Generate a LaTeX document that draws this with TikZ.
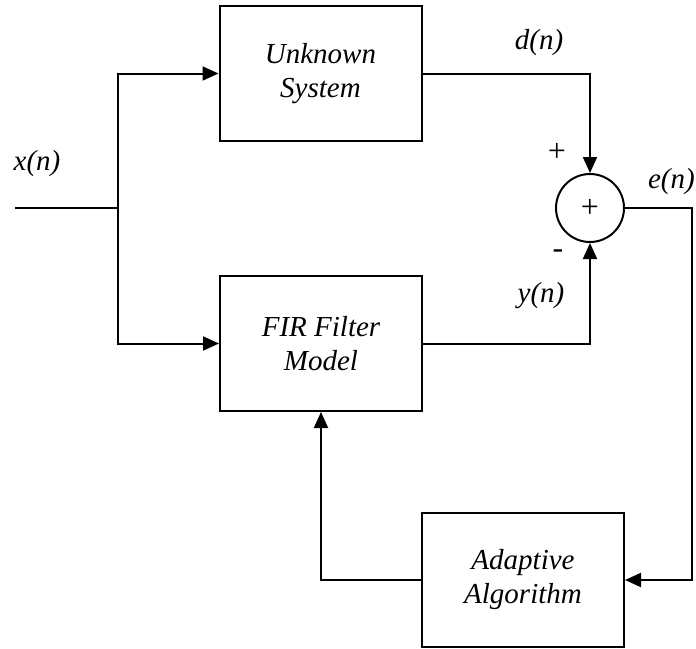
\documentclass[tikz,border=0pt]{standalone}
\usepackage{fontspec}
\setmainfont{Liberation Serif}
\usetikzlibrary{arrows.meta}
\begin{document}
\begin{tikzpicture}[x=1pt,y=-1pt,
  blk/.style={draw,line width=2pt,minimum width=202pt,minimum height=135pt,inner sep=0pt,
    align=center,font=\fontsize{29}{34}\selectfont\itshape},
  sumnode/.style={draw,circle,line width=2pt,minimum size=68pt,inner sep=0pt,font=\fontsize{32}{36}\selectfont},
  wire/.style={line width=2pt},
  arr/.style={wire,-{Triangle[length=16pt,width=14pt]}},
  sig/.style={font=\fontsize{29}{34}\selectfont\itshape,inner sep=0pt},
  sgn/.style={font=\fontsize{32}{36}\selectfont,inner sep=0pt}]
\useasboundingbox (0,0) rectangle (696,648);
\node[blk] (unk) at (320.5,73.5) {Unknown\\System};
\node[blk] (fir) at (321,343.5) {FIR Filter\\Model};
\node[blk,minimum height=134pt] (ada) at (523,580) {Adaptive\\Algorithm};
\node[sumnode] (sum) at (590,208) {+};
\coordinate (in) at (15,208);
\coordinate (br) at (118,208);
\coordinate (er) at (692,208);
\draw[wire] (in) -- (br);
\draw[arr] (br) |- (unk.west);
\draw[arr] (br) |- (fir.west);
\draw[arr] (unk.east) -| (sum.north);
\draw[arr] (fir.east) -| (sum.south);
\draw[arr] (sum.east) -- (er) |- (ada.east);
\draw[arr] (ada.west) -| (fir.south);
\node[sig] (xl) at (37,164) {x(n)};
\node[sig] (dl) at (539,43) {d(n)};
\node[sig,anchor=east] (el) at (695,182) {e(n)};
\node[sig] (yl) at (541,296) {y(n)};
\node[sgn] (pl) at (557,152) {+};
\node[sgn] (ml) at (558,254) {-};
\end{tikzpicture}
\end{document}
